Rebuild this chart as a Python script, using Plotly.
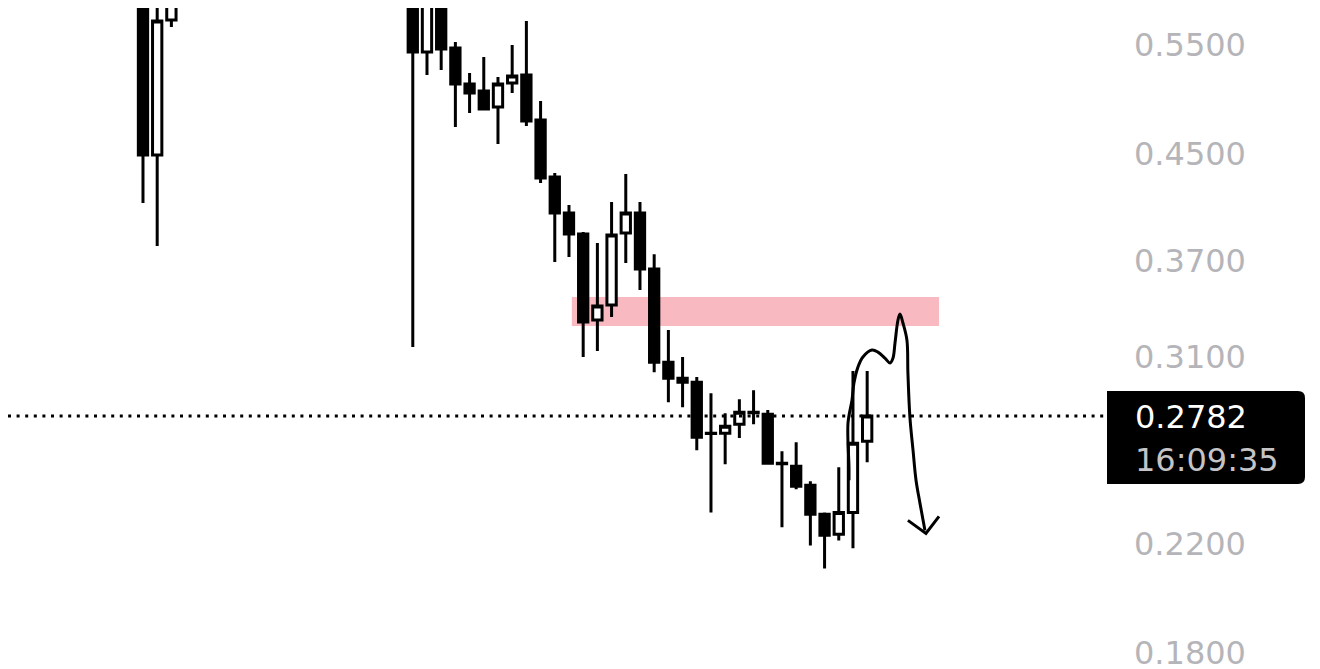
import plotly.graph_objects as go

# candle slot index (slots 3-18 sit above the visible range and are left out)
idx = [0, 1, 2,
       19, 20, 21, 22, 23, 24, 25, 26, 27, 28, 29, 30, 31, 32, 33, 34, 35,
       36, 37, 38, 39, 40, 41, 42, 43, 44, 45, 46, 47, 48, 49, 50, 51]
opens = [0.630, 0.4494, 0.5759,
         0.640, 0.5430, 0.620, 0.5470, 0.5120, 0.5054, 0.4907, 0.5129, 0.5205,
         0.4792, 0.4315, 0.4039, 0.3886, 0.3318, 0.3411, 0.3893, 0.4039,
         0.3644, 0.3071, 0.2982, 0.2960, 0.2695, 0.2695, 0.2740, 0.2801,
         0.2791, 0.2550, 0.2536, 0.2449, 0.2322, 0.2238, 0.2330, 0.2656]
highs = [0.660, 0.620, 0.670,
         0.660, 0.640, 0.630, 0.5530, 0.5224, 0.5380, 0.5186, 0.5500, 0.5748,
         0.4962, 0.4347, 0.4099, 0.3900, 0.3822, 0.4122, 0.4340, 0.4122,
         0.3745, 0.3258, 0.3100, 0.2988, 0.2901, 0.2796, 0.2869, 0.2917,
         0.2812, 0.2607, 0.2651, 0.2467, 0.2330, 0.2532, 0.3021, 0.3021]
lows = [0.4114, 0.3801, 0.5685,
        0.3157, 0.5205, 0.5253, 0.4730, 0.4854, 0.4880, 0.4586, 0.5035, 0.4739,
        0.4268, 0.3691, 0.3725, 0.3100, 0.3134, 0.3336, 0.3684, 0.3506,
        0.3015, 0.2853, 0.2827, 0.2612, 0.2330, 0.2546, 0.2671, 0.2740,
        0.2546, 0.2267, 0.2431, 0.2193, 0.2102, 0.2213, 0.2181, 0.2555]
closes = [0.4494, 0.5748, 0.640,
          0.5430, 0.620, 0.5460, 0.5120, 0.5035, 0.4889, 0.5120, 0.5195, 0.4783,
          0.4308, 0.4039, 0.3886, 0.3306, 0.3405, 0.3879, 0.4039, 0.3644,
          0.3071, 0.2982, 0.2960, 0.2675, 0.2693, 0.2730, 0.2801, 0.2798,
          0.2550, 0.2548, 0.2445, 0.2322, 0.2234, 0.2330, 0.2646, 0.2782]

last_price = 0.2782
last_time = "16:09:35"

# pink resistance zone
zone_x = [30.2, 56.06]
zone_y = [0.3282, 0.3461]

# hand drawn projection (slot index, price)
draw_x = [49.72, 49.72, 49.65, 49.93, 50.07, 50.35, 50.70, 51.34, 51.76, 52.25,
          52.61, 52.82, 52.96, 53.17, 53.31, 53.52, 53.80, 53.87, 54.01, 54.23,
          54.44, 54.72, 55.07]
draw_y = [0.2472, 0.2532, 0.2745, 0.2864, 0.2955, 0.3043, 0.3100, 0.3140, 0.3128,
          0.3094, 0.3066, 0.3094, 0.3181, 0.3318, 0.3355, 0.3300, 0.3198, 0.3010,
          0.2776, 0.2612, 0.2472, 0.2369, 0.2254]
head_x = [53.87, 55.14, 56.06]
head_y = [0.2296, 0.2242, 0.2313]

tick_vals = [0.18, 0.22, 0.31, 0.37, 0.45, 0.55]
tick_text = ["0.1800", "0.2200", "0.3100", "0.3700", "0.4500", "0.5500"]

W, H = 1320, 669
AX_R = 1099  # right edge of the plotting area, px (page has an 8px body margin)

fig = go.Figure()

fig.add_shape(type="rect", x0=zone_x[0], x1=zone_x[1], y0=zone_y[0], y1=zone_y[1],
              xref="x", yref="y", fillcolor="#f8b9c1", line_width=0, layer="below")

fig.add_trace(go.Candlestick(
    x=idx, open=opens, high=highs, low=lows, close=closes,
    increasing=dict(fillcolor="white", line=dict(color="black", width=3)),
    decreasing=dict(fillcolor="black", line=dict(color="black", width=3)),
    hoverinfo="skip", showlegend=False,
))

fig.add_trace(go.Scatter(x=draw_x, y=draw_y, mode="lines",
                         line=dict(color="black", width=3, shape="spline", smoothing=1),
                         hoverinfo="skip", showlegend=False))
fig.add_trace(go.Scatter(x=head_x, y=head_y, mode="lines",
                         line=dict(color="black", width=3),
                         hoverinfo="skip", showlegend=False))

# last price dotted line
fig.add_shape(type="line", xref="paper", yref="y", x0=0, x1=AX_R / W,
              y0=last_price, y1=last_price,
              line=dict(color="black", width=3, dash="3px,5.6px"))

# price tag box, rounded on the right
x0, x1 = AX_R / W, 1297 / W
y0, y1 = 1 - 476 / H, 1 - 383 / H
rx, ry = 7 / W, 7 / H
fig.add_shape(type="path", xref="paper", yref="paper",
              path=f"M {x0},{y0} L {x1 - rx},{y0} Q {x1},{y0} {x1},{y0 + ry} "
                   f"L {x1},{y1 - ry} Q {x1},{y1} {x1 - rx},{y1} L {x0},{y1} Z",
              fillcolor="black", line_width=0)
fig.add_annotation(text=f"{last_price:.4f}", xref="paper", yref="paper",
                   x=1125 / W, y=1 - 409 / H, xanchor="left", yanchor="middle",
                   showarrow=False, font=dict(family="DejaVu Sans", size=32, color="white"))
fig.add_annotation(text=last_time, xref="paper", yref="paper",
                   x=1125 / W, y=1 - 452 / H, xanchor="left", yanchor="middle",
                   showarrow=False, font=dict(family="DejaVu Sans", size=32, color="#c4c4c6"))

fig.update_layout(
    width=W, height=H,
    margin=dict(l=0, r=0, t=0, b=0),
    paper_bgcolor="white", plot_bgcolor="white",
    hovermode=False,
    boxgap=0.2, boxgroupgap=0.18,
    xaxis=dict(domain=[0, AX_R / W], range=[-9.507, 67.89], visible=False,
               rangeslider=dict(visible=False), fixedrange=True),
    yaxis=dict(type="log", side="right", range=[-0.7640, -0.2301],
               tickvals=tick_vals, ticktext=tick_text, ticks="",
               ticklabelstandoff=26, ticklabeloverflow="allow",
               showgrid=False, zeroline=False, showline=False,
               tickfont=dict(family="DejaVu Sans", size=32, color="#b5b5b9"),
               fixedrange=True),
)

fig.write_html("out.html")
